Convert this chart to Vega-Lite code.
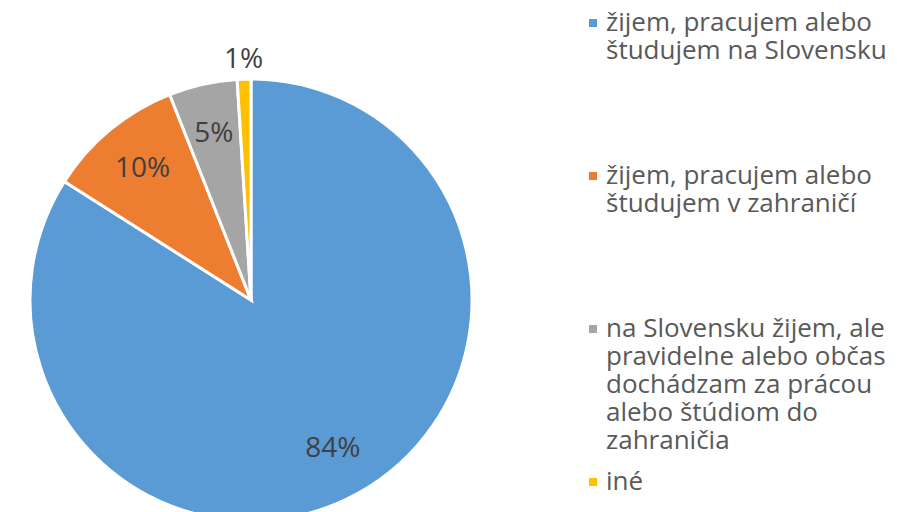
{
  "$schema": "https://vega.github.io/schema/vega-lite/v6.json",
  "width": 502,
  "height": 600,
  "padding": 0,
  "autosize": {"type": "pad"},
  "background": "white",
  "data": {
    "values": [
      {"category": "žijem, pracujem alebo\nštudujem na Slovensku", "value": 0.84},
      {"category": "žijem, pracujem alebo\nštudujem v zahraničí", "value": 0.10},
      {"category": "na Slovensku žijem, ale\npravidelne alebo občas\ndochádzam za prácou\nalebo štúdiom do\nzahraničia", "value": 0.05},
      {"category": "iné", "value": 0.01}
    ]
  },
  "encoding": {
    "theta": {"field": "value", "type": "quantitative", "stack": true},
    "order": {"field": "index", "type": "quantitative"}
  },
  "transform": [{"window": [{"op": "row_number", "as": "index"}]}],
  "layer": [
    {
      "mark": {"type": "arc", "outerRadius": 221, "stroke": "white", "strokeWidth": 3},
      "encoding": {
        "color": {
          "field": "category",
          "type": "nominal",
          "sort": null,
          "scale": {
            "domain": [
              "žijem, pracujem alebo\nštudujem na Slovensku",
              "žijem, pracujem alebo\nštudujem v zahraničí",
              "na Slovensku žijem, ale\npravidelne alebo občas\ndochádzam za prácou\nalebo štúdiom do\nzahraničia",
              "iné"
            ],
            "range": ["#5B9BD5", "#ED7D31", "#A5A5A5", "#FFC000"]
          },
          "legend": {
            "title": null,
            "orient": "none",
            "legendX": 580,
            "legendY": 10,
            "padding": 0,
            "symbolType": "square",
            "symbolSize": 64,
            "symbolStrokeWidth": 0,
            "gridAlign": "all",
            "rowPadding": 15,
            "labelOffset": 0,
            "labelFont": "Open Sans",
            "labelFontSize": 26,
            "labelColor": "#595959",
            "labelLimit": 400,
            "labelExpr": "split(datum.label, '\\n')",
            "labelLineHeight": 33
          }
        }
      }
    },
    {
      "mark": {"type": "text", "radius": 170, "font": "Open Sans", "fontSize": 28, "color": "#404040"},
      "encoding": {
        "text": {"condition": {"test": "datum.value >= 0.02", "field": "value", "format": ".0%"}, "value": ""}
      }
    },
    {
      "mark": {"type": "text", "radius": 240, "font": "Open Sans", "fontSize": 28, "color": "#404040"},
      "encoding": {
        "text": {"condition": {"test": "datum.value < 0.02", "field": "value", "format": ".0%"}, "value": ""}
      }
    }
  ]
}
